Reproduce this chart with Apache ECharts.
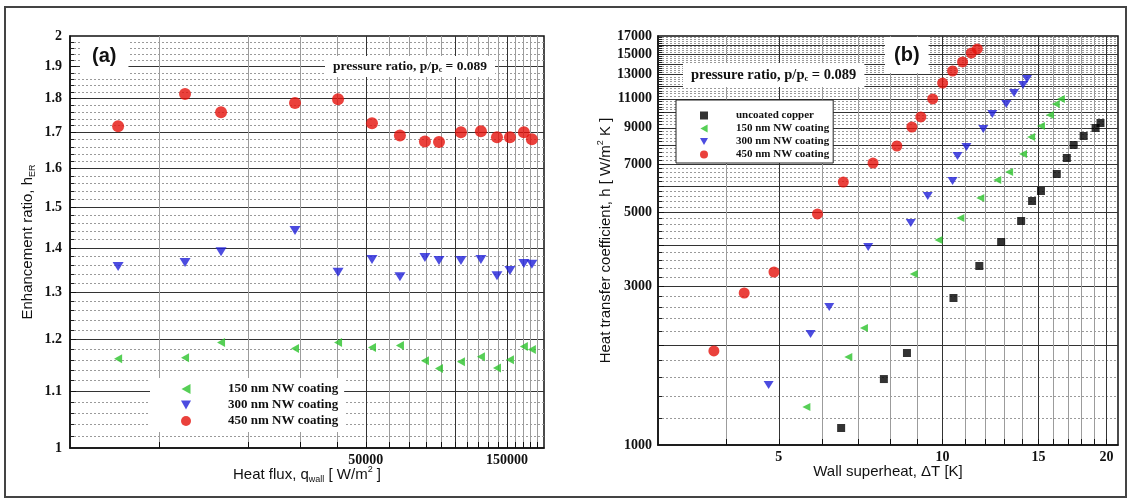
<!DOCTYPE html>
<html><head><meta charset="utf-8">
<script src="https://cdn.jsdelivr.net/npm/echarts@6/dist/echarts.min.js"></script>
<style>html,body{margin:0;padding:0;background:#fff}#c{width:1131px;height:502px}</style>
</head><body><div id="c"></div>
<script>
// ---------- Panel (a): enhancement ratio vs heat flux ----------
const heatFlux = [7270, 12240, 16200, 28800, 40270, 52440, 65170, 79170, 88330, 104800, 122400, 138700, 153400, 171000, 182000];
const ratio150 = [1.162, 1.164, 1.194, 1.182, 1.194, 1.184, 1.188, 1.158, 1.143, 1.156, 1.166, 1.144, 1.160, 1.186, 1.180];
const ratio300 = [1.357, 1.366, 1.391, 1.442, 1.344, 1.373, 1.334, 1.378, 1.371, 1.371, 1.373, 1.336, 1.348, 1.364, 1.362];
const ratio450 = [1.718, 1.814, 1.759, 1.787, 1.798, 1.727, 1.692, 1.675, 1.673, 1.701, 1.704, 1.687, 1.687, 1.701, 1.681];

// ---------- Panel (b): heat transfer coefficient vs wall superheat ----------
const dTcopper = [6.51, 7.80, 8.60, 10.47, 11.68, 12.81, 13.94, 14.60, 15.16, 16.21, 16.91, 17.41, 18.16, 19.10, 19.50];
const hCopper  = [1125, 1579, 1891, 2768, 3455, 4080, 4720, 5420, 5809, 6535, 7301, 7991, 8504, 8990, 9305];
const dT150 = [5.62, 6.71, 7.17, 8.85, 9.83, 10.78, 11.73, 12.60, 13.25, 14.05, 14.54, 15.16, 15.74, 16.14, 16.49];
const h150  = [1301, 1840, 2249, 3269, 4137, 4818, 5536, 6269, 6627, 7508, 8446, 9115, 9835, 10614, 10988];
const dT300 = [4.79, 5.72, 6.19, 7.30, 8.74, 9.39, 10.43, 10.65, 11.06, 11.88, 12.34, 13.09, 13.53, 14.05, 14.29];
const h300  = [1515, 2158, 2602, 3942, 4655, 5613, 6227, 7403, 7878, 8927, 9903, 10614, 11455, 12106, 12622];
const dT450 = [3.80, 4.32, 4.90, 5.89, 6.57, 7.45, 8.24, 8.78, 9.12, 9.59, 10.00, 10.43, 10.88, 11.29, 11.58];
const h450  = [1918, 2866, 3315, 4955, 6183, 7047, 7934, 9051, 9701, 10990, 12270, 13340, 14200, 15110, 15540];

// ---------- tick labels ----------
const aXLabels = [50000, 150000];
const aYLabels = [1, 1.1, 1.2, 1.3, 1.4, 1.5, 1.6, 1.7, 1.8, 1.9, 2];
const bXLabels = [5, 10, 15, 20];
const bYLabels = [1000, 3000, 5000, 7000, 9000, 11000, 13000, 15000, 17000];

// grid-line values (x: every tick gets a line; majors drawn dark, others grey)
const aXTicks = [10000, 20000, 30000, 40000, 50000, 60000, 70000, 80000, 90000, 100000,
                 110000, 120000, 130000, 140000, 150000, 160000, 170000, 180000, 190000];
const bXTicks = [4, 5, 6, 7, 8, 9, 10, 11, 12, 13, 14, 15, 16, 17, 18, 19, 20];
const aYMajor = [1.1, 1.2, 1.3, 1.4, 1.5, 1.6, 1.7, 1.8, 1.9];
const aYMinor = [], bYMajor = [], bYMinor = [];
for (let k = 51; k <= 99; k++) if (k % 5 !== 0) aYMinor.push(Math.round(k * 2) / 100);
for (let k = 2; k <= 16; k++) bYMajor.push(k * 1000);
for (let k = 6; k <= 84; k++) if (k % 5 !== 0) bYMinor.push(k * 200);

const DARK = '#333', LIGHT = '#9c9c9c';
const aXLineColors = [LIGHT, LIGHT, LIGHT, LIGHT, DARK];   // 50000, 100000, 150000 dark
const bXLineColors = [LIGHT, DARK, LIGHT, LIGHT, LIGHT];   // 5, 10, 15, 20 dark

const RED = '#e5120b', BLUE = '#1f1fd8', GREEN = '#2cc32c', BLACK = '#000';
const TRI_DOWN = 'path://M0,0L10,0L5,9Z';
const TRI_LEFT = 'path://M9,0L9,10L0,5Z';

const SERIF = 'Liberation Serif', SANS = 'Liberation Sans';
const zip = (a, b) => a.map((v, i) => [v, b[i]]);

const nameRich = {
  sub: {fontFamily: SANS, fontSize: 9, color: '#111', verticalAlign: 'bottom', lineHeight: 9},
  sup: {fontFamily: SANS, fontSize: 9, color: '#111', verticalAlign: 'top', lineHeight: 9}
};
const nameStyle = {fontFamily: SANS, fontSize: 15, color: '#111', lineHeight: 19, rich: nameRich};
const tickLabel = {fontFamily: SERIF, fontWeight: 'bold', fontSize: 14, color: '#111'};

function mainAxis(o) {
  return Object.assign({
    type: 'log', nameLocation: 'middle', nameTextStyle: nameStyle, nameMoveOverlap: false,
    axisLine: {show: true, lineStyle: {color: '#111', width: 1.5}},
    axisTick: {show: true, inside: true, length: 6, customValues: o.ticks, lineStyle: {color: '#111'}},
    splitLine: {show: true, lineStyle: {color: o.lineColor || DARK, width: o.lineWidth || 1.2, type: 'solid'}},
    axisLabel: Object.assign({customValues: o.labels, formatter: o.fmt, margin: o.margin}, tickLabel)
  }, o.extra);
}
// y minor axes: dotted grid + inside ticks
function minorYAxis(o) {
  return Object.assign({
    type: 'log',
    axisLine: {show: false}, axisLabel: {show: false},
    axisTick: {show: true, inside: true, length: 4, customValues: o.minor, lineStyle: {color: '#222'}},
    splitLine: {show: true, lineStyle: {color: '#9a9a9a', width: 1, type: [2, 2]}}
  }, o.extra);
}

const option = {
  backgroundColor: '#fff',
  animation: false,
  graphic: [{type: 'rect', silent: true, z: 100, shape: {x: 5, y: 7, width: 1121, height: 490},
             style: {fill: 'none', stroke: '#444', lineWidth: 2}}],
  grid: [
    {left: 70, top: 36, width: 474, height: 412, show: true, borderColor: '#111', borderWidth: 1.5},
    {left: 658, top: 36, width: 460, height: 409, show: true, borderColor: '#111', borderWidth: 1.5}
  ],
  title: [
    {text: '(a)', left: 80, top: 38, padding: [8, 12, 8, 12], backgroundColor: '#fff',
     textStyle: {fontFamily: SANS, fontWeight: 'bold', fontSize: 20, color: '#111'}},
    {text: 'pressure ratio, p/p{sub|c} = 0.089', left: 325, top: 56, padding: [3, 8, 3, 8], backgroundColor: '#fff',
     textStyle: {fontFamily: SERIF, fontWeight: 'bold', fontSize: 13.5, color: '#111', lineHeight: 15,
       rich: {sub: {fontFamily: SERIF, fontWeight: 'bold', fontSize: 8, color: '#111', verticalAlign: 'bottom', lineHeight: 8}}}},
    {text: '(b)', left: 885, top: 37, padding: [8, 9, 8, 9], backgroundColor: '#fff',
     textStyle: {fontFamily: SANS, fontWeight: 'bold', fontSize: 20, color: '#111'}},
    {text: 'pressure ratio, p/p{sub|c} = 0.089', left: 683, top: 63, padding: [4, 8, 4, 8], backgroundColor: '#fff',
     textStyle: {fontFamily: SERIF, fontWeight: 'bold', fontSize: 14.5, color: '#111', lineHeight: 16,
       rich: {sub: {fontFamily: SERIF, fontWeight: 'bold', fontSize: 8.5, color: '#111', verticalAlign: 'bottom', lineHeight: 8}}}}
  ],
  legend: [
    {data: ['150 nm NW coating', '300 nm NW coating', '450 nm NW coating'],
     left: 150, top: 378, orient: 'vertical', itemWidth: 10, itemHeight: 10, itemGap: 2,
     padding: [4, 6, 4, 31], backgroundColor: '#fff', selectedMode: false,
     formatter: '{g| }{name}',
     textStyle: {fontFamily: SERIF, fontWeight: 'bold', fontSize: 13, color: '#111', lineHeight: 14,
                 rich: {g: {width: 32, fontSize: 13}}}},
    {data: ['uncoated copper', '150 nm NW coating', '300 nm NW coating', '450 nm NW coating'],
     left: 676, top: 100, orient: 'vertical', itemWidth: 8, itemHeight: 8, itemGap: 2,
     padding: [10, 4, 3, 24], backgroundColor: '#fff', borderColor: '#222', borderWidth: 1, selectedMode: false,
     formatter: '{g| }{name}',
     textStyle: {fontFamily: SERIF, fontWeight: 'bold', fontSize: 11, color: '#111', lineHeight: 10.6,
                 rich: {g: {width: 23, fontSize: 10}}}}
  ],
  xAxis: [
    mainAxis({ticks: aXTicks, labels: aXLabels, fmt: v => String(Math.round(v)), margin: 5,
      lineColor: aXLineColors, lineWidth: 1,
      extra: {gridIndex: 0, position: 'bottom', min: 5000, max: 200000,
              name: 'Heat flux, q{sub|wall} [ W/m{sup|2} ]', nameGap: 17}}),
    mainAxis({ticks: bXTicks, labels: bXLabels, fmt: v => String(Math.round(v)), margin: 5,
      lineColor: bXLineColors, lineWidth: 1,
      extra: {gridIndex: 1, position: 'bottom', min: 3, max: 21,
              name: 'Wall superheat, \u0394T [K]', nameGap: 17}})
  ],
  yAxis: [
    mainAxis({ticks: aYMajor, labels: aYLabels, fmt: v => String(Math.round(v * 10) / 10), margin: 8,
      extra: {gridIndex: 0, position: 'left', min: 1, max: 2,
              name: 'Enhancement ratio, h{sub|ER}', nameGap: 33}}),
    minorYAxis({minor: aYMinor, extra: {gridIndex: 0, position: 'left', min: 1, max: 2}}),
    mainAxis({ticks: bYMajor, labels: bYLabels, fmt: v => String(Math.round(v)), margin: 6,
      extra: {gridIndex: 1, position: 'left', min: 1000, max: 17000,
              name: 'Heat transfer coefficient, h [ W/m{sup|2} K ]', nameGap: 43}}),
    minorYAxis({minor: bYMinor, extra: {gridIndex: 1, position: 'left', min: 1000, max: 17000}})
  ],
  series: [
    {type: 'scatter', name: '150 nm NW coating', xAxisIndex: 0, yAxisIndex: 0, data: zip(heatFlux, ratio150),
     symbol: TRI_LEFT, symbolSize: [8, 9], itemStyle: {color: GREEN}},
    {type: 'scatter', name: '300 nm NW coating', xAxisIndex: 0, yAxisIndex: 0, data: zip(heatFlux, ratio300),
     symbol: TRI_DOWN, symbolSize: [11, 9], itemStyle: {color: BLUE}},
    {type: 'scatter', name: '450 nm NW coating', xAxisIndex: 0, yAxisIndex: 0, data: zip(heatFlux, ratio450),
     symbol: 'circle', symbolSize: 12, itemStyle: {color: RED}},
    {type: 'scatter', name: 'uncoated copper', xAxisIndex: 1, yAxisIndex: 2, data: zip(dTcopper, hCopper),
     symbol: 'rect', symbolSize: 8, itemStyle: {color: BLACK}},
    {type: 'scatter', name: '150 nm NW coating', xAxisIndex: 1, yAxisIndex: 2, data: zip(dT150, h150),
     symbol: TRI_LEFT, symbolSize: [8, 8], itemStyle: {color: GREEN}},
    {type: 'scatter', name: '300 nm NW coating', xAxisIndex: 1, yAxisIndex: 2, data: zip(dT300, h300),
     symbol: TRI_DOWN, symbolSize: [10, 8], itemStyle: {color: BLUE}},
    {type: 'scatter', name: '450 nm NW coating', xAxisIndex: 1, yAxisIndex: 2, data: zip(dT450, h450),
     symbol: 'circle', symbolSize: 11, itemStyle: {color: RED}}
  ]
};
const chart = echarts.init(document.getElementById('c'), null, {renderer: 'canvas'});
chart.setOption(option);
</script></body></html>
